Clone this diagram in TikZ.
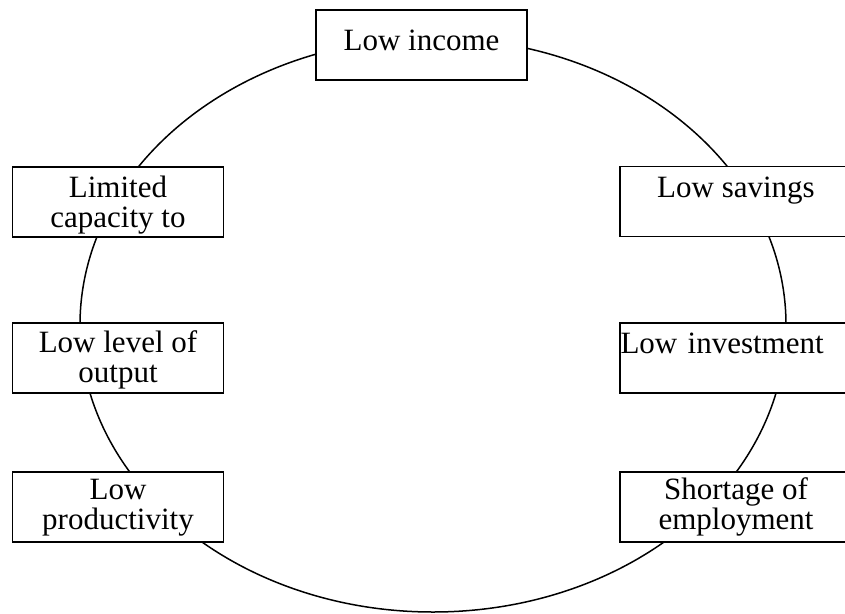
\documentclass[tikz,border=0pt]{standalone}
\usepackage{fontspec}
\setmainfont{Liberation Serif}
\usepackage{xcolor}

\begin{document}
\begin{tikzpicture}[x=1pt, y=-1pt,
        box/.style={draw, fill=white, line width=1.5pt, minimum width=211, minimum height=70,
            inner xsep=0pt, inner ysep=0pt, align=center, text height=30pt, text depth=40pt,
            font=\fontsize{31}{30}\selectfont},
        rbox/.style={box, minimum width=232},
        twolines/.style={text height=#1pt, text depth=70pt-#1pt}]
        \clip (0,0) rectangle (845,613);

        % The circle of poverty
        \draw[line width=1.5pt] (433,325) ellipse [x radius=353, y radius=287];

        % Top box
        \node[box, text height=40pt, text depth=30pt] (income) at (421.5,45) {Low income};

        % Boxes on the left
        \node[box, twolines=60] (capacity) at (118,202) {Limited\\capacity to};
        \node[box, twolines=59.5] (output) at (118,358) {Low level of\\output};
        \node[box, twolines=57.5] (productivity) at (118,507) {Low\\productivity};

        % Boxes on the right
        \node[rbox, text height=30.5pt, text depth=39.5pt] (savings) at (736,201.5) {Low savings};
        \node[rbox, text width=231pt, align=left, inner xsep=0.5pt] (investment) at (736,358) {Low investment};
        \node[rbox, twolines=57.5] (employment) at (736,507) {Shortage of\\employment};
    \end{tikzpicture}
\end{document}
